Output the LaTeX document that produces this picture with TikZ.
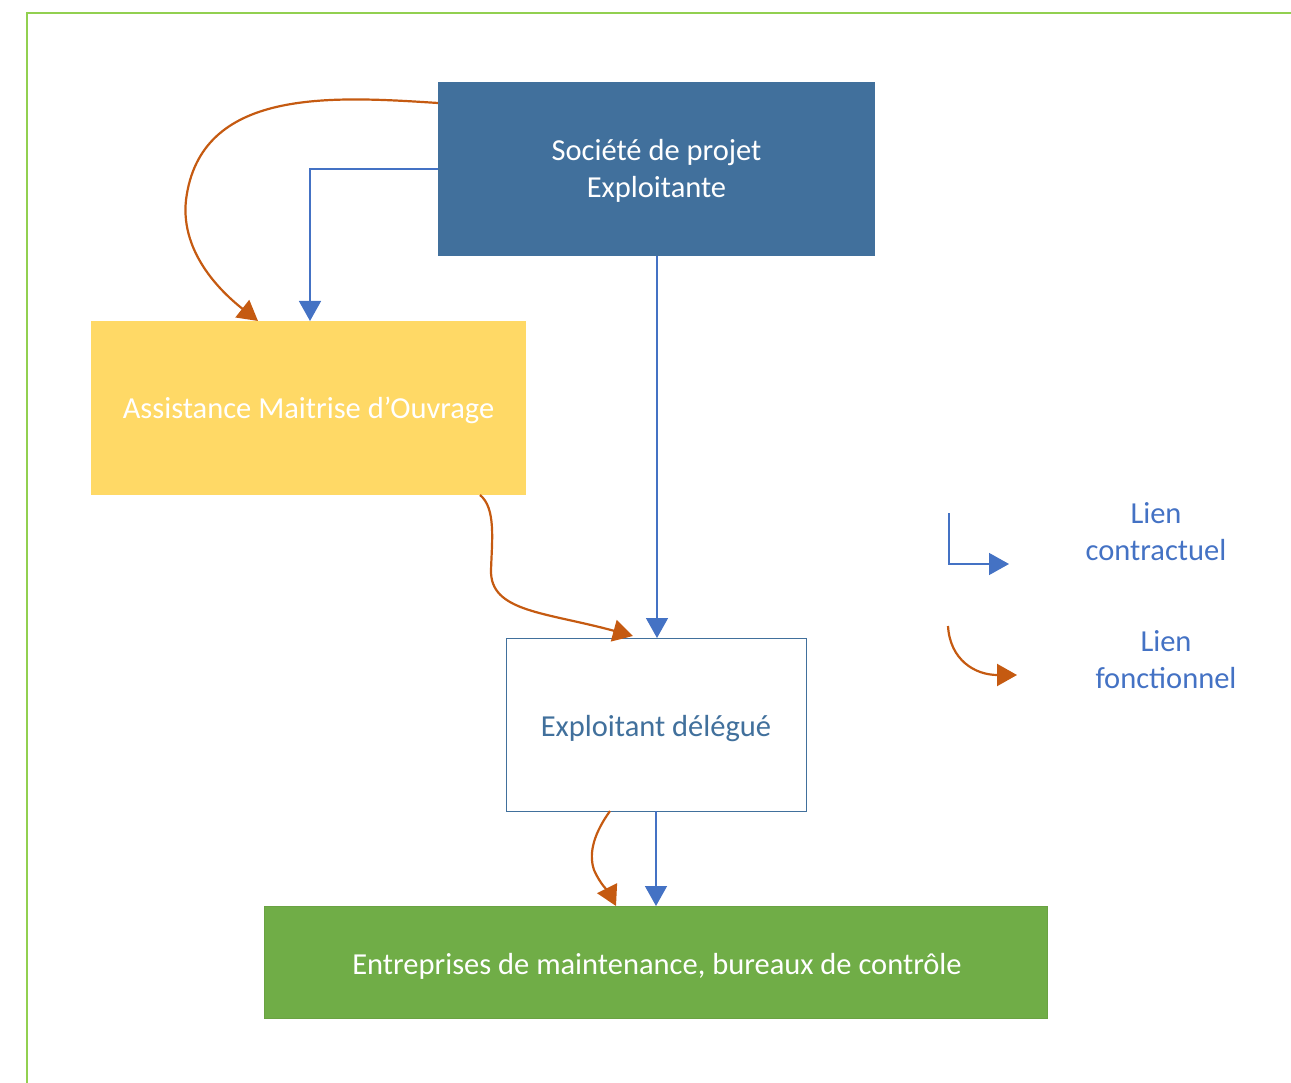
\documentclass[tikz,border=0pt]{standalone}
\usepackage{fontspec}
\setmainfont{Carlito}
\usetikzlibrary{arrows.meta}
\definecolor{projblue}{HTML}{41709C}
\definecolor{amoyellow}{HTML}{FFD966}
\definecolor{entgreen}{HTML}{70AD47}
\definecolor{entedge}{HTML}{6AA243}
\definecolor{linkblue}{HTML}{4472C4}
\definecolor{linkorange}{HTML}{C55A11}
\definecolor{frame}{HTML}{92D050}
\tikzset{
  box/.style={rectangle, inner sep=0pt, anchor=north west, align=center},
  contract/.style={draw=linkblue, line width=1.5pt, -{Triangle[width=22pt,length=20pt]}},
  functional/.style={draw=linkorange, line width=2.2pt, -{Triangle[width=22pt,length=20pt]}},
  boxtext/.style={font=\fontsize{30.5}{37}\selectfont, align=center}
}
\begin{document}
\begin{tikzpicture}[x=1pt, y=-1pt]
  \useasboundingbox (0,0) rectangle (1291,1083);
  % outer frame
  \draw[frame, line width=2pt] (27,1083) -- (27,13) -- (1291,13);

  % boxes
  \node[box, fill=projblue, minimum width=437pt, minimum height=174pt] (soc) at (438,82) {};
  \node[boxtext, text=white] (soctxt) at (656.5,171) {Société de projet\\Exploitante};

  \node[box, fill=amoyellow, minimum width=435pt, minimum height=174pt] (amo) at (91,321) {};
  \node[boxtext, text=white] (amotxt) at (308.5,410) {Assistance Maitrise d’Ouvrage};

  \node[box, fill=white, draw=projblue, line width=1.3pt, minimum width=300pt, minimum height=173pt] (expl) at (506,638) {};
  \node[boxtext, text=projblue] (expltxt) at (656,729) {Exploitant délégué};

  \node[box, fill=entgreen, draw=entedge, line width=1.3pt, minimum width=783pt, minimum height=112pt] (ent) at (264,906) {};
  \node[boxtext, text=white] (enttxt) at (657,966) {Entreprises de maintenance, bureaux de contrôle};

  % contractual links
  \draw[contract] (soc.west |- 0,169) -- (310,169) -- (310,321);
  \draw[contract] (657,256) -- (657,638);
  \draw[contract] (656,811) -- (656,906);

  % functional links
  \draw[functional] (438,103) .. controls (330,96) and (200,88) .. (186,200)
        .. controls (180,255) and (225,295) .. (258,321);
  \draw[functional] (480,495) .. controls (496,508) and (492,540) .. (491,570)
        .. controls (490,612) and (545,612) .. (633,636);
  \draw[functional] (610,811) .. controls (595,832) and (588,852) .. (594,870)
        .. controls (600,884) and (610,894) .. (616,906);

  % legend
  \coordinate (lc0) at (949,513);
  \coordinate (lc1) at (1009,564);
  \draw[contract] (lc0) -- (949,564) -- (lc1);
  \node[boxtext, text=linkblue] (lctxt) at (1156,532) {Lien\\contractuel};

  \coordinate (lf0) at (948,626);
  \coordinate (lf1) at (1017,675);
  \draw[functional] (lf0) .. controls (950,660) and (975,675) .. (lf1);
  \node[boxtext, text=linkblue] (lftxt) at (1166,660) {Lien\\fonctionnel};
\end{tikzpicture}
\end{document}
